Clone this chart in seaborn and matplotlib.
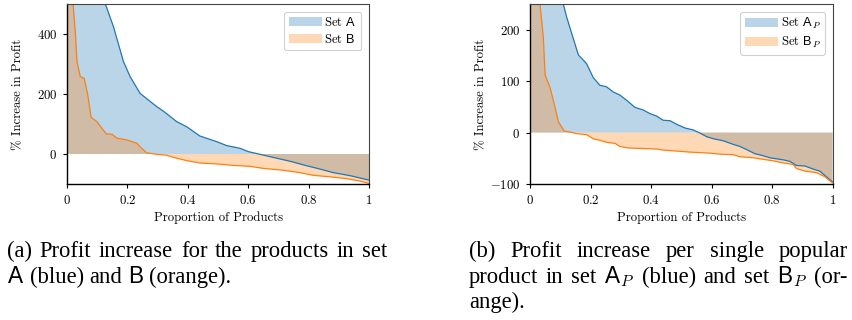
import numpy as np
import pandas as pd
import matplotlib
matplotlib.use("Agg")
import matplotlib.pyplot as plt
import seaborn as sns
from matplotlib.font_manager import FontProperties
from matplotlib.patches import Patch

# ---------------- data ----------------
# panel (a)
a_blue_x = [0.0, 0.03, 0.06, 0.09, 0.11, 0.127, 0.154, 0.187, 0.209, 0.242, 0.297, 0.319, 0.363,
            0.396, 0.44, 0.496, 0.529, 0.573, 0.6, 0.639, 0.694, 0.738, 0.793, 0.837, 0.881,
            0.936, 1.0]
a_blue_y = [1800, 1200, 850, 650, 560, 500, 424, 308, 258, 202, 158, 143, 108,
            91, 60, 41, 28, 19, 8, -1, -14, -24, -39, -50, -62,
            -72, -87]
a_orange_x = [0.0, 0.01, 0.02, 0.028, 0.033, 0.044, 0.057, 0.068, 0.080, 0.099, 0.11, 0.13,
              0.149, 0.165, 0.198, 0.231, 0.242, 0.264, 0.297, 0.33, 0.352, 0.396, 0.44,
              0.496, 0.551, 0.606, 0.65, 0.716, 0.771, 0.815, 0.87, 0.925, 0.969, 1.0]
a_orange_y = [1500, 800, 500, 402, 308, 258, 252, 202, 122, 108, 93, 67,
              66, 53, 47, 36, 24, 4, -1, -4, -11, -22, -30,
              -33, -38, -41, -48, -54, -62, -71, -76, -82, -90, -98]

# panel (b)
b_blue_x = [0.0, 0.04, 0.08, 0.11, 0.121, 0.143, 0.16, 0.187, 0.209, 0.231, 0.253, 0.275, 0.297,
            0.319, 0.347, 0.374, 0.396, 0.419, 0.44, 0.463, 0.485, 0.512, 0.54, 0.562,
            0.584, 0.606, 0.639, 0.672, 0.694, 0.716, 0.743, 0.771, 0.793, 0.815, 0.837,
            0.859, 0.881, 0.909, 0.936, 0.958, 0.98, 1.0]
b_blue_y = [900, 550, 330, 250, 225, 183, 151, 134, 107, 92, 89, 79, 73,
            63, 49, 44, 37, 32, 24, 23, 16, 9, 5, -1,
            -8, -12, -16, -23, -27, -33, -41, -45, -49, -51, -53,
            -56, -64, -65, -71, -75, -86, -96]
b_orange_x = [0.0, 0.02, 0.033, 0.044, 0.05, 0.066, 0.077, 0.094, 0.113, 0.132, 0.154, 0.187,
              0.209, 0.231, 0.253, 0.281, 0.297, 0.325, 0.374, 0.419, 0.44, 0.485, 0.529,
              0.595, 0.628, 0.672, 0.694, 0.738, 0.771, 0.804, 0.837, 0.87, 0.881, 0.909,
              0.947, 0.975, 1.0]
b_orange_y = [700, 380, 250, 186, 112, 88, 63, 21, 3, 1, -2, -4,
              -12, -15, -19, -21, -27, -30, -31, -32, -34, -36, -38,
              -40, -42, -43, -47, -49, -52, -55, -59, -62, -70, -75,
              -78, -86, -98]

x_ticks = [0, 0.2, 0.4, 0.6, 0.8, 1.0]
x_tick_labels = ["$0$", "$0.2$", "$0.4$", "$0.6$", "$0.8$", "$1$"]
a_y_ticks = [0, 200, 400]
a_y_tick_labels = ["$0$", "$200$", "$400$"]
b_y_ticks = [-100, 0, 100, 200]
b_y_tick_labels = ["$-100$", "$0$", "$100$", "$200$"]
a_ylim = (-100, 500)
b_ylim = (-100, 250)

a_legend = [r"Set $\mathsf{A}$", r"Set $\mathsf{B}$"]
b_legend = [r"Set $\mathsf{A}_P$", r"Set $\mathsf{B}_P$"]
x_label = "Proportion of Products"
y_label = "% Increase in Profit"

cap_a = [["(a)", "Profit", "increase", "for", "the", "products", "in", "set"],
         [r"$\mathsf{A}$", "(blue)", "and", r"$\mathsf{B}$", "(orange)."]]
cap_b = [["(b)", "Profit", "increase", "per", "single", "popular"],
         ["product", "in", "set", r"$\mathsf{A}_P$", "(blue)", "and", "set", r"$\mathsf{B}_P$", "(or-"],
         ["ange)."]]

# ---------------- style ----------------
sns.set_theme(style="ticks")
plt.rcParams["font.family"] = ["cmr10", "DejaVu Serif"]
plt.rcParams["mathtext.fontset"] = "cm"
plt.rcParams["mathtext.sf"] = "Liberation Sans"
plt.rcParams["mathtext.rm"] = "cmr10"
plt.rcParams["mathtext.it"] = "cmmi10"
plt.rcParams["axes.unicode_minus"] = True

C0 = "#1f77b4"
C1 = "#ff7f0e"
W, H = 852, 320
fig = plt.figure(figsize=(W / 100, H / 100), dpi=100)

def px_axes(l, t, r, b):
    return fig.add_axes([l / W, 1 - b / H, (r - l) / W, (b - t) / H])

ax_a = px_axes(67, 4, 369, 184)
ax_b = px_axes(530, 4, 832.5, 184)

tick_fp = FontProperties(family="cmr10", size=9.2, math_fontfamily="cm")
leg_fp = FontProperties(family="cmr10", size=9.2, math_fontfamily="custom")

def draw_panel(ax, bx, by, ox, oy, ylim, yt, ytl, labels):
    dfb = pd.DataFrame({"x": bx, "y": by})
    dfo = pd.DataFrame({"x": ox, "y": oy})
    ax.fill_between(dfb["x"], dfb["y"], 0, color=C0, alpha=0.3, lw=0)
    ax.fill_between(dfo["x"], dfo["y"], 0, color=C1, alpha=0.3, lw=0)
    sns.lineplot(data=dfb, x="x", y="y", ax=ax, color=C0, lw=0.9, estimator=None)
    sns.lineplot(data=dfo, x="x", y="y", ax=ax, color=C1, lw=0.9, estimator=None)
    ax.set_xlim(0, 1)
    ax.set_ylim(*ylim)
    ax.set_xticks(x_ticks)
    ax.set_xticklabels(x_tick_labels, fontproperties=tick_fp)
    ax.set_yticks(yt)
    ax.set_yticklabels(ytl, fontproperties=tick_fp)
    ax.set_xlabel(x_label, fontproperties=tick_fp, labelpad=3, color="black")
    ax.set_ylabel(y_label, fontproperties=tick_fp, color="black")
    ax.yaxis.set_label_coords(-0.142, 0.5)
    ax.tick_params(length=3, width=0.8, pad=4, color="black", labelcolor="black")
    for s in ["left", "bottom"]:
        ax.spines[s].set_color("black")
        ax.spines[s].set_linewidth(1.0)
    for s in ["top", "right"]:
        ax.spines[s].set_visible(True)
        ax.spines[s].set_color("#444444")
        ax.spines[s].set_linewidth(0.8)
    handles = [Patch(facecolor=C0, alpha=0.3, edgecolor="none"),
               Patch(facecolor=C1, alpha=0.3, edgecolor="none")]
    leg = ax.legend(handles, labels, loc="upper right", prop=leg_fp, frameon=True,
                    fancybox=True, framealpha=1, edgecolor="#d0d0d0",
                    handlelength=2.6, handletextpad=0.2, borderpad=0.35,
                    labelspacing=0.3, borderaxespad=0.6)
    for t in leg.get_texts():
        t.set_color("black")
    leg.get_frame().set_linewidth(0.8)

draw_panel(ax_a, a_blue_x, a_blue_y, a_orange_x, a_orange_y, a_ylim,
           a_y_ticks, a_y_tick_labels, a_legend)
draw_panel(ax_b, b_blue_x, b_blue_y, b_orange_x, b_orange_y, b_ylim,
           b_y_ticks, b_y_tick_labels, b_legend)

# ---------------- captions ----------------
cap_fp = FontProperties(family=["Liberation Serif"], size=16.3, math_fontfamily="custom")
renderer = fig.canvas.get_renderer()

def word_width(w):
    t = fig.text(0, 0, w, fontproperties=cap_fp)
    wd = t.get_window_extent(renderer).width
    t.remove()
    return wd

space_w = word_width("a b") - word_width("ab")

def place_line(words, x0, x1, y, justify):
    widths = [word_width(w) for w in words]
    if justify and len(words) > 1:
        gap = (x1 - x0 - sum(widths)) / (len(words) - 1)
    else:
        gap = space_w
    x = x0
    for w, wd in zip(words, widths):
        fig.text(x / W, 1 - y / H, w, fontproperties=cap_fp, va="baseline", ha="left",
                 color="black")
        x += wd + gap

baselines = [257, 283, 308]
for i, line in enumerate(cap_a):
    place_line(line, 7, 387, baselines[i], i == 0)
for i, line in enumerate(cap_b):
    place_line(line, 469, 848, baselines[i], i < len(cap_b) - 1)

fig.savefig("out.png", dpi=100)
